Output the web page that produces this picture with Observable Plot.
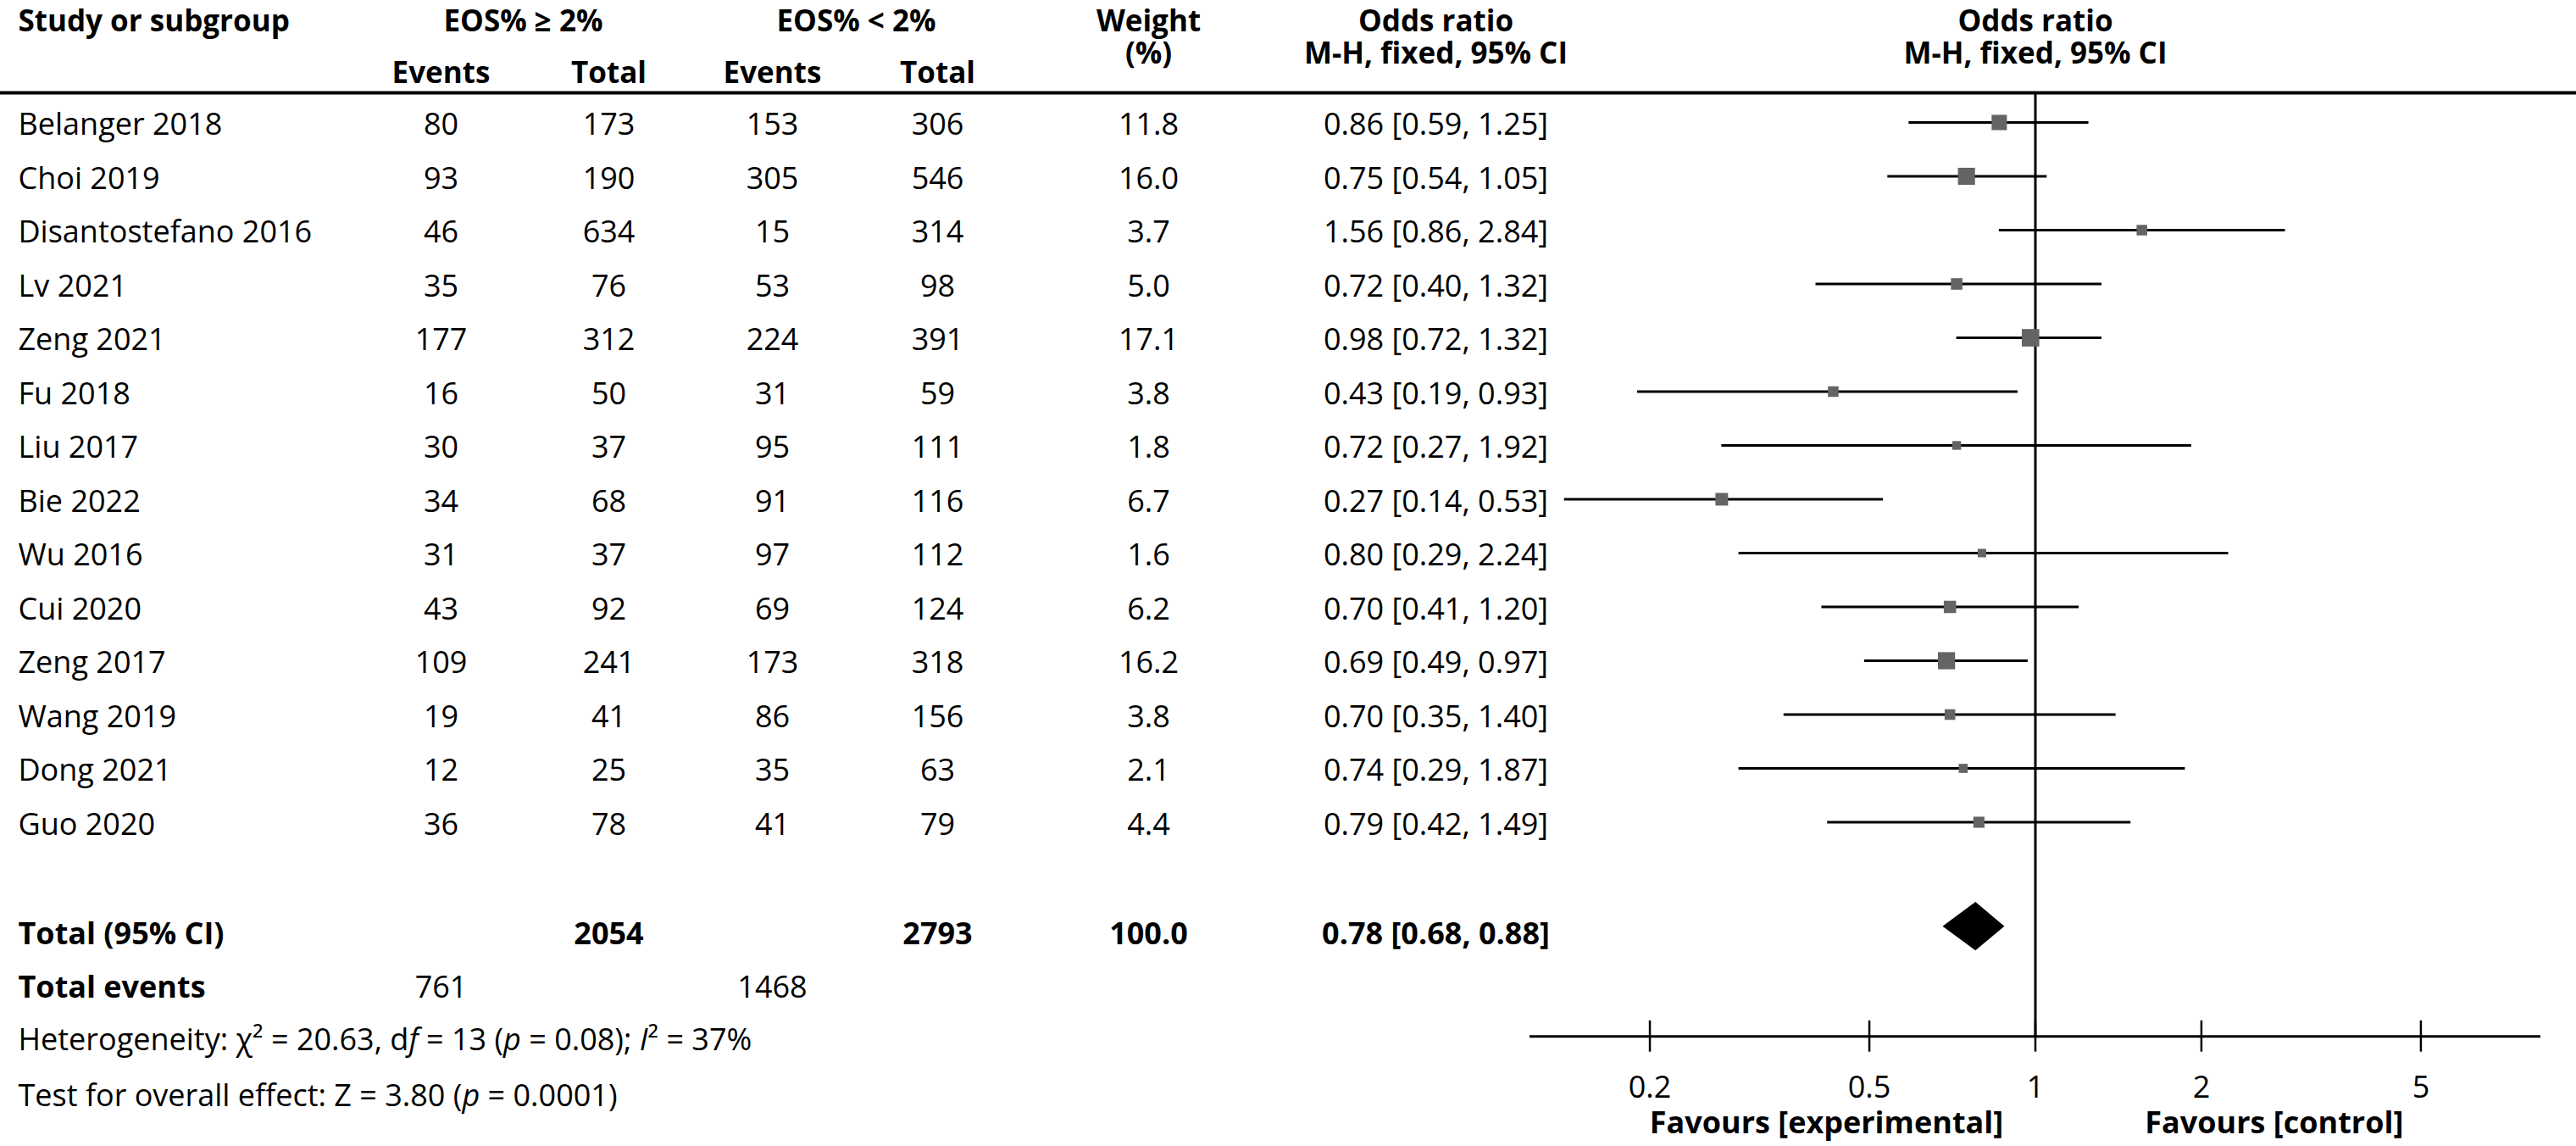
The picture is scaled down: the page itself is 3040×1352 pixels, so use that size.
<!DOCTYPE html>
<html><head><meta charset="utf-8">
<script src="https://cdn.jsdelivr.net/npm/d3@7"></script>
<script src="https://cdn.jsdelivr.net/npm/@observablehq/plot@0.6"></script>
<style>
html,body{margin:0;padding:0;background:#fff;}
#chart{position:relative;width:3040px;height:1352px;overflow:hidden;background:#fff;}
#chart svg{position:absolute;left:0;top:0;max-width:none;}
</style></head><body><div id="chart"></div>
<script>
// ---------- data ----------
const studies = ["Belanger 2018","Choi 2019","Disantostefano 2016","Lv 2021","Zeng 2021","Fu 2018","Liu 2017","Bie 2022","Wu 2016","Cui 2020","Zeng 2017","Wang 2019","Dong 2021","Guo 2020"];
const eventsHigh = [80,93,46,35,177,16,30,34,31,43,109,19,12,36];
const totalHigh  = [173,190,634,76,312,50,37,68,37,92,241,41,25,78];
const eventsLow  = [153,305,15,53,224,31,95,91,97,69,173,86,35,41];
const totalLow   = [306,546,314,98,391,59,111,116,112,124,318,156,63,79];
const weights    = [11.8,16.0,3.7,5.0,17.1,3.8,1.8,6.7,1.6,6.2,16.2,3.8,2.1,4.4];
const oddsRatio  = [0.86,0.75,1.56,0.72,0.98,0.43,0.72,0.27,0.80,0.70,0.69,0.70,0.74,0.79];
const ciLow      = [0.59,0.54,0.86,0.40,0.72,0.19,0.27,0.14,0.29,0.41,0.49,0.35,0.29,0.42];
const ciHigh     = [1.25,1.05,2.84,1.32,1.32,0.93,1.92,0.53,2.24,1.20,0.97,1.40,1.87,1.49];

const pooled = {or: 0.78, lo: 0.68, hi: 0.88, totalHigh: 2054, totalLow: 2793, weight: 100.0, eventsHigh: 761, eventsLow: 1468};
const heterogeneity = {chi2: "20.63", df: 13, p: "0.08", i2: 37};
const overall = {z: "3.80", p: "0.0001"};

const axisTicks = [0.2, 0.5, 1, 2, 5];
const tickLabels = ["0.2", "0.5", "1", "2", "5"];
const favourLabels = ["Favours [experimental]", "Favours [control]"];
const groupHeaders = ["EOS% \u2265 2%", "EOS% < 2%"];
const weightHeader = "Weight\n(%)";
const orHeader = "Odds ratio\nM-H, fixed, 95% CI";

// ---------- layout ----------
const W = 3040, H = 1352;
const FONT = "'Open Sans', sans-serif";
const FS = 36;
const yScale = {type: "linear", domain: [0, 13], range: [144, 969.5], axis: null};
const COL = {study: 21, e1: 520, t1: 718, e2: 911, t2: 1106, w: 1355, or: 1694, g1: 617, g2: 1010};
const ROW = {head1: -1.88, headStack: -1.58, head2: -0.93, hline: -0.55, total: 15.08, diamond: 14.94,
             events: 16.08, het: 17.05, test: 18.1, axis: 16.98, tickLab: 17.94, fav: 18.6};
const XMAX = 8.25;

const rows = studies.map((s, i) => ({
  study: s, e1: eventsHigh[i], t1: totalHigh[i], e2: eventsLow[i], t2: totalLow[i],
  w: weights[i], or: oddsRatio[i], lo: ciLow[i], hi: ciHigh[i], row: i
}));
const fmtCI = (o, l, h) => `${o.toFixed(2)} [${l.toFixed(2)}, ${h.toFixed(2)}]`;

const hetParts = [
  {t: `Heterogeneity: \u03c7\u00b2 = ${heterogeneity.chi2}, d`}, {t: "f", i: true},
  {t: ` = ${heterogeneity.df} (`}, {t: "p", i: true}, {t: ` = ${heterogeneity.p}); `},
  {t: "I", i: true}, {t: `\u00b2 = ${heterogeneity.i2}%`}
];
const testParts = [
  {t: `Test for overall effect: Z = ${overall.z} (`}, {t: "p", i: true}, {t: ` = ${overall.p})`}
];
const plain = parts => parts.map(p => p.t).join("");

const style = {fontFamily: FONT, fontSize: FS + "px", background: "transparent", color: "black", overflow: "visible"};
const HFS = 35; // header font size
const STACK_LH = 1.09; // line height of the two-line headers (em)

// ---------- table ----------
const tbl = (data, opts) => Plot.text(data, {fill: "black", ...opts});
const hdr = (data, opts) => Plot.text(data, {fill: "black", fontWeight: "bold", fontSize: HFS, lineHeight: STACK_LH, ...opts});
const table = Plot.plot({
  width: W, height: H, margin: 0,
  x: {type: "linear", domain: [0, W], range: [0, W], axis: null},
  y: yScale,
  style,
  marks: [
    Plot.ruleY([ROW.hline], {stroke: "black", strokeWidth: 4}),
    // headers
    hdr(["Study or subgroup"], {x: COL.study, y: ROW.head1, textAnchor: "start"}),
    hdr([groupHeaders[0]], {x: COL.g1, y: ROW.head1}),
    hdr([groupHeaders[1]], {x: COL.g2, y: ROW.head1}),
    hdr(["Events"], {x: COL.e1, y: ROW.head2}),
    hdr(["Total"], {x: COL.t1, y: ROW.head2}),
    hdr(["Events"], {x: COL.e2, y: ROW.head2}),
    hdr(["Total"], {x: COL.t2, y: ROW.head2}),
    hdr([weightHeader], {x: COL.w, y: ROW.headStack}),
    hdr([orHeader], {x: COL.or, y: ROW.headStack}),
    // study rows
    tbl(rows, {x: COL.study, y: "row", text: "study", textAnchor: "start", dy: 3}),
    tbl(rows, {x: COL.e1, y: "row", text: d => String(d.e1), dy: 3}),
    tbl(rows, {x: COL.t1, y: "row", text: d => String(d.t1), dy: 3}),
    tbl(rows, {x: COL.e2, y: "row", text: d => String(d.e2), dy: 3}),
    tbl(rows, {x: COL.t2, y: "row", text: d => String(d.t2), dy: 3}),
    tbl(rows, {x: COL.w, y: "row", text: d => d.w.toFixed(1), dy: 3}),
    tbl(rows, {x: COL.or, y: "row", text: d => fmtCI(d.or, d.lo, d.hi), dy: 3}),
    // totals
    tbl(["Total (95% CI)"], {x: COL.study, y: ROW.total, textAnchor: "start", fontWeight: "bold"}),
    tbl([String(pooled.totalHigh)], {x: COL.t1, y: ROW.total, fontWeight: "bold"}),
    tbl([String(pooled.totalLow)], {x: COL.t2, y: ROW.total, fontWeight: "bold"}),
    tbl([pooled.weight.toFixed(1)], {x: COL.w, y: ROW.total, fontWeight: "bold"}),
    tbl([fmtCI(pooled.or, pooled.lo, pooled.hi)], {x: COL.or, y: ROW.total, fontWeight: "bold"}),
    tbl(["Total events"], {x: COL.study, y: ROW.events, textAnchor: "start", fontWeight: "bold"}),
    tbl([String(pooled.eventsHigh)], {x: COL.e1, y: ROW.events}),
    tbl([String(pooled.eventsLow)], {x: COL.e2, y: ROW.events}),
    tbl([plain(hetParts)], {x: COL.study, y: ROW.het, textAnchor: "start"}),
    tbl([plain(testParts)], {x: COL.study, y: ROW.test, textAnchor: "start"})
  ]
});

// rich text (italics) for the statistics lines
function richify(svg, parts) {
  const s = plain(parts);
  svg.querySelectorAll("text").forEach(t => {
    if (t.textContent === s) {
      t.textContent = "";
      for (const p of parts) {
        const ts = document.createElementNS("http://www.w3.org/2000/svg", "tspan");
        ts.textContent = p.t;
        if (p.i) ts.setAttribute("font-style", "italic");
        t.appendChild(ts);
      }
    }
  });
}
richify(table, hetParts);
richify(table, testParts);

// ---------- forest ----------
const diamond = [
  {x: pooled.lo, y1: ROW.diamond, y2: ROW.diamond},
  {x: pooled.or, y1: ROW.diamond - 0.45, y2: ROW.diamond + 0.45},
  {x: pooled.hi, y1: ROW.diamond, y2: ROW.diamond}
];
const favours = [{x: 0.418, label: favourLabels[0]}, {x: 2.71, label: favourLabels[1]}];

const forest = Plot.plot({
  width: W, height: H, margin: 0,
  x: {type: "log", domain: [1 / XMAX, XMAX], range: [1805, 2998], axis: null},
  y: yScale,
  r: {type: "linear", domain: [0, Math.sqrt(17.1)], range: [3.0, 11.65]},
  style,
  marks: [
    Plot.ruleX([1], {y1: ROW.hline, y2: ROW.axis, stroke: "black", strokeWidth: 3}),
    Plot.ruleY(rows, {y: "row", x1: "lo", x2: "hi", stroke: "black", strokeWidth: 3}),
    Plot.dot(rows, {x: "or", y: "row", r: d => Math.sqrt(d.w), symbol: "square", fill: "#646464", stroke: null}),
    Plot.areaY(diamond, {x: "x", y1: "y1", y2: "y2", fill: "black"}),
    Plot.ruleY([ROW.axis], {x1: 1 / XMAX, x2: XMAX, stroke: "black", strokeWidth: 3}),
    Plot.ruleX(axisTicks, {y1: ROW.axis - 0.29, y2: ROW.axis + 0.29, stroke: "black", strokeWidth: 2.5}),
    Plot.text(axisTicks, {x: d => d, y: ROW.tickLab, text: (d, i) => tickLabels[i], fill: "black"}),
    Plot.text(favours, {x: "x", y: ROW.fav, text: "label", fontWeight: "bold", fill: "black"}),
    hdr([orHeader], {x: 1, y: ROW.headStack})
  ]
});

const chart = document.getElementById("chart");
chart.append(table, forest);
</script></body></html>
